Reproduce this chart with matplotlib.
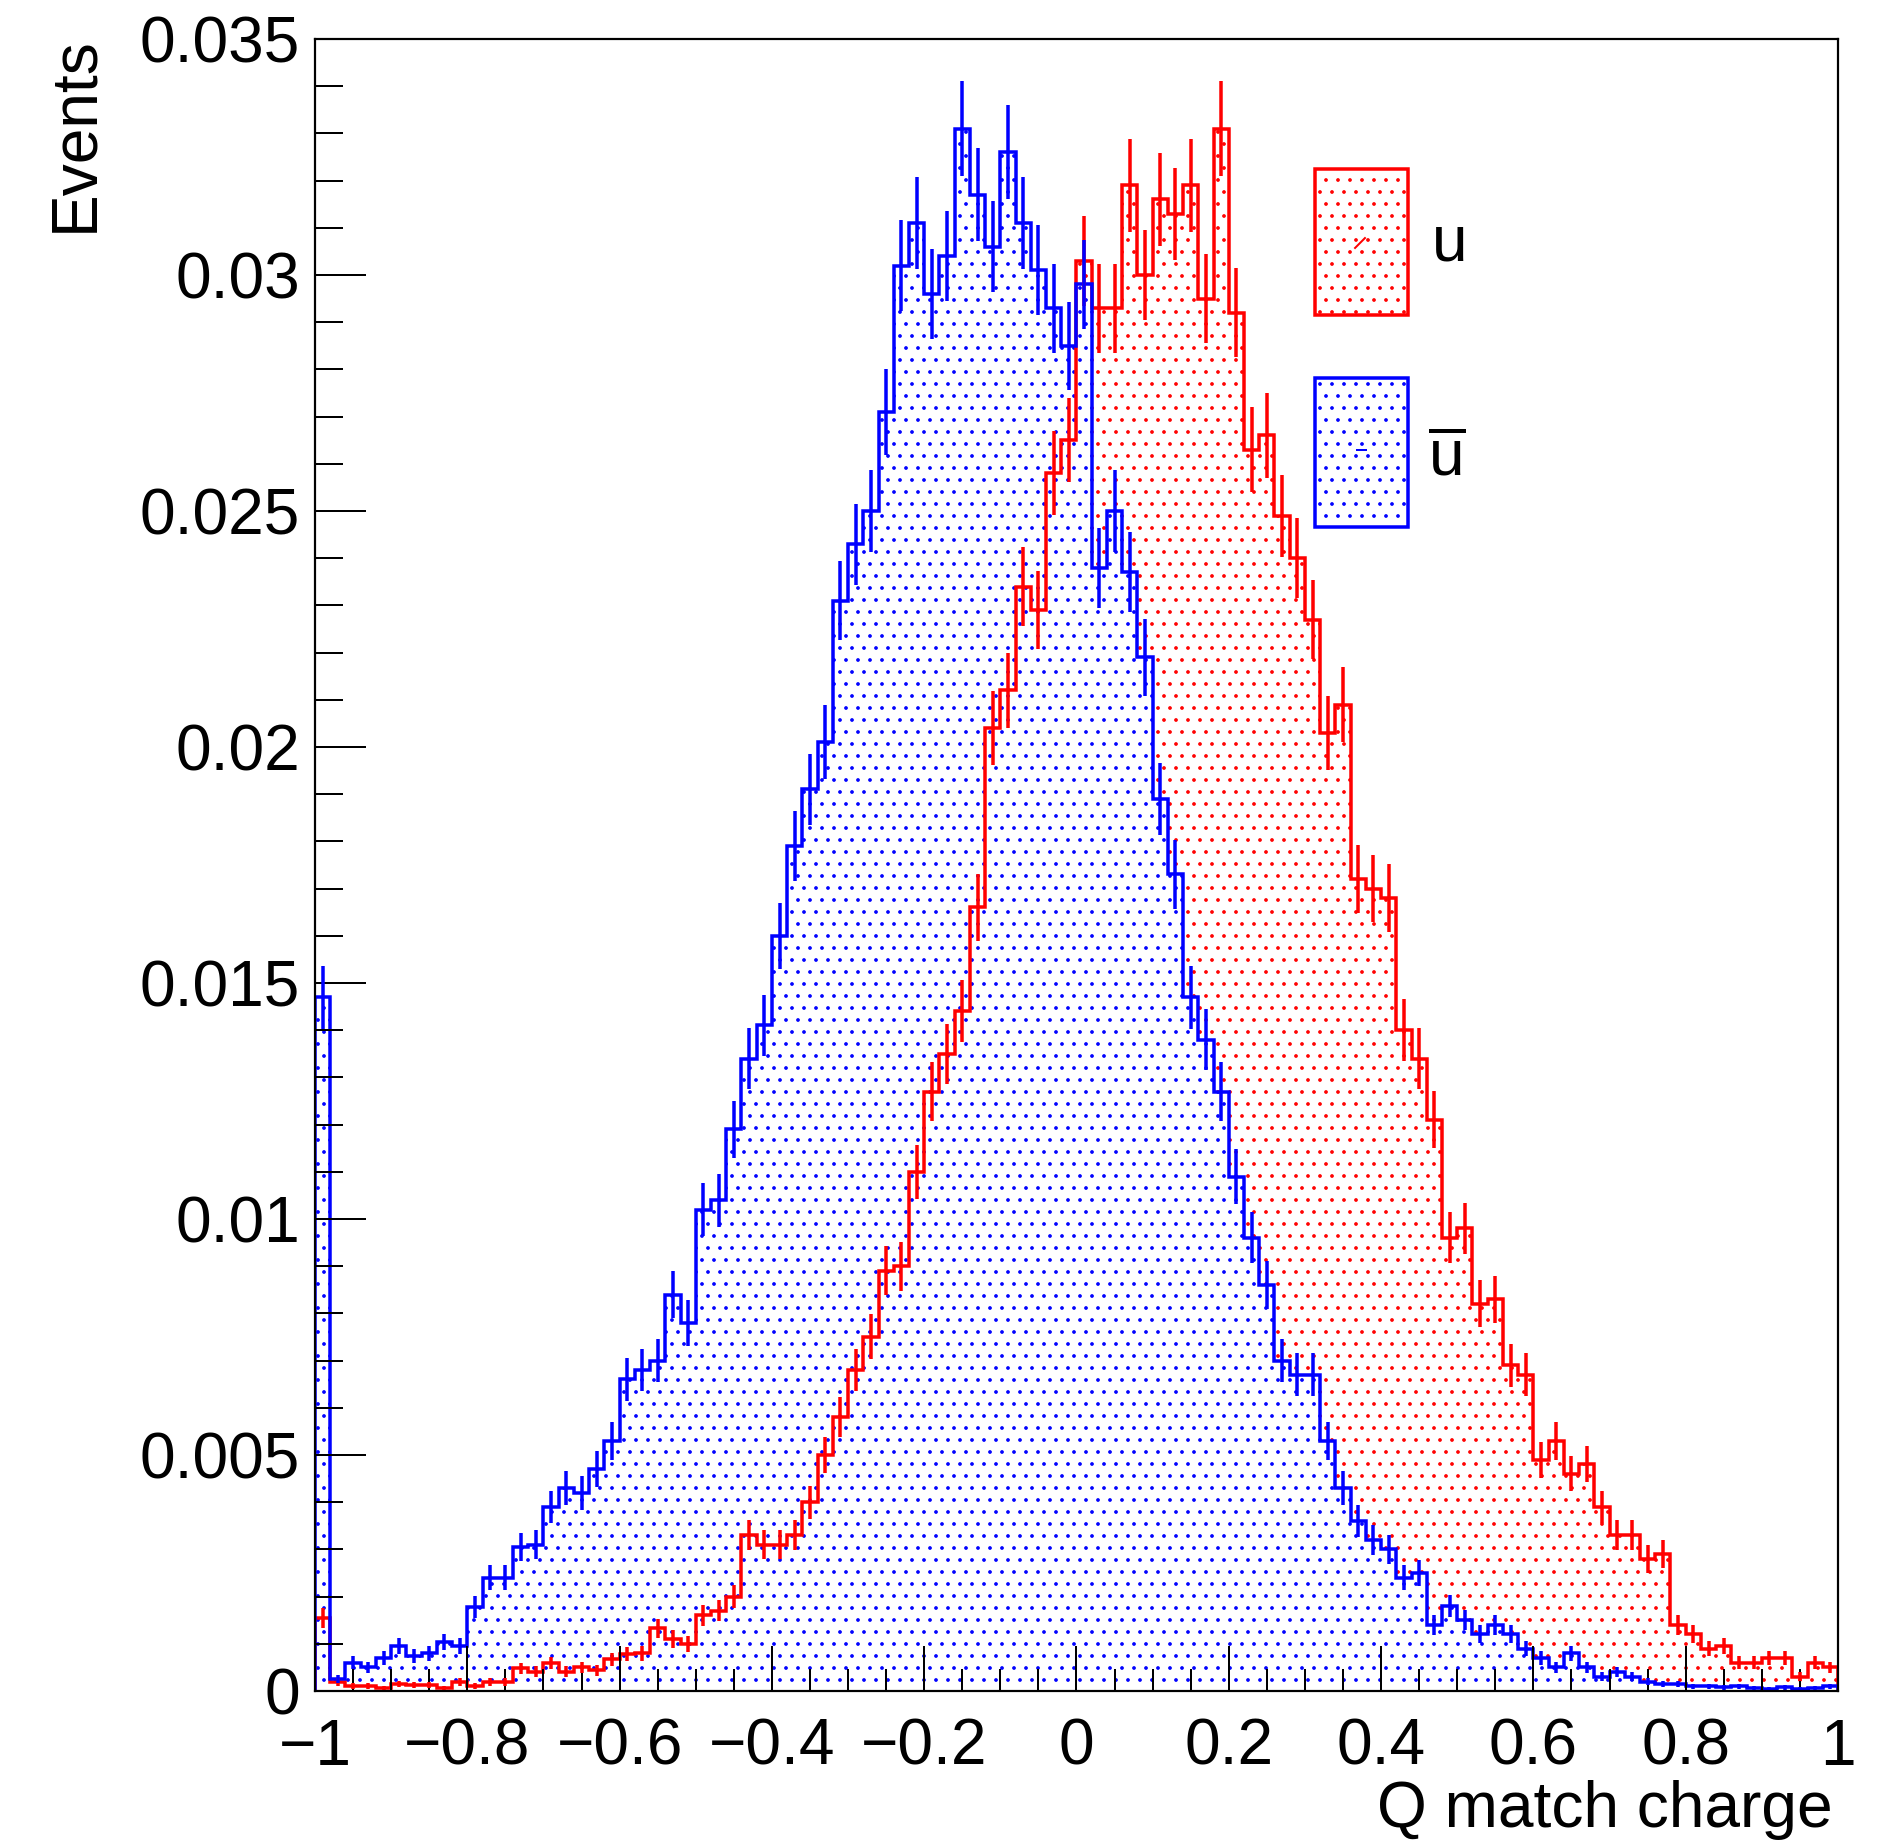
#se importan las librerias necesarias
import matplotlib
matplotlib.use("Agg")
import matplotlib.pyplot as plt
import numpy as np
from matplotlib.patches import Rectangle

#fuente parecida a helvetica (estilo ROOT)
plt.rcParams['font.family'] = ['Liberation Sans', 'DejaVu Sans']
plt.rcParams['mathtext.fontset'] = 'custom'
plt.rcParams['mathtext.rm'] = 'Liberation Sans'
plt.rcParams['hatch.linewidth'] = 1.3

#binning del histograma
xmin = -1.0
xmax = 1.0
nbins = 100

#valores (u en rojo, u barra en azul)
u = [0.00155, 0.00019, 0.00011, 0.00011, 0.00007, 0.00015, 0.00013, 0.00013, 0.00007, 0.00019,
     0.00011, 0.00019, 0.00019, 0.00048, 0.00041, 0.00059, 0.00041, 0.00050, 0.00044, 0.00067,
     0.00078, 0.00080, 0.00133, 0.00110, 0.00100, 0.00160, 0.00170, 0.00200, 0.00330, 0.00310,
     0.00310, 0.00330, 0.00400, 0.00500, 0.00580, 0.00680, 0.00750, 0.00890, 0.00900, 0.01100,
     0.01270, 0.01350, 0.01440, 0.01660, 0.02040, 0.02120, 0.02340, 0.02290, 0.02580, 0.02650,
     0.03030, 0.02930, 0.02930, 0.03190, 0.03000, 0.03160, 0.03130, 0.03190, 0.02950, 0.03310,
     0.02920, 0.02630, 0.02660, 0.02490, 0.02400, 0.02270, 0.02030, 0.02090, 0.01720, 0.01700,
     0.01680, 0.01400, 0.01340, 0.01210, 0.00960, 0.00980, 0.00820, 0.00830, 0.00690, 0.00670,
     0.00490, 0.00530, 0.00460, 0.00480, 0.00390, 0.00330, 0.00330, 0.00280, 0.00290, 0.00140,
     0.00120, 0.00090, 0.00095, 0.00060, 0.00060, 0.00070, 0.00070, 0.00030, 0.00060, 0.00050]

ubar = [0.01470, 0.00026, 0.00060, 0.00050, 0.00070, 0.00096, 0.00074, 0.00080, 0.00104, 0.00096,
        0.00178, 0.00240, 0.00240, 0.00305, 0.00310, 0.00390, 0.00430, 0.00420, 0.00470, 0.00530,
        0.00660, 0.00680, 0.00700, 0.00840, 0.00780, 0.01020, 0.01040, 0.01190, 0.01340, 0.01410,
        0.01600, 0.01790, 0.01910, 0.02010, 0.02310, 0.02430, 0.02500, 0.02710, 0.03020, 0.03110,
        0.02960, 0.03040, 0.03310, 0.03170, 0.03060, 0.03260, 0.03110, 0.03010, 0.02930, 0.02850,
        0.02980, 0.02380, 0.02500, 0.02370, 0.02190, 0.01890, 0.01730, 0.01470, 0.01380, 0.01270,
        0.01090, 0.00960, 0.00860, 0.00700, 0.00670, 0.00670, 0.00530, 0.00430, 0.00360, 0.00320,
        0.00300, 0.00240, 0.00250, 0.00140, 0.00180, 0.00150, 0.00120, 0.00140, 0.00120, 0.00090,
        0.00070, 0.00050, 0.00080, 0.00050, 0.00030, 0.00040, 0.00030, 0.00020, 0.00015, 0.00015,
        0.00010, 0.00010, 0.00008, 0.00010, 0.00006, 0.00005, 0.00008, 0.00004, 0.00006, 0.00010]

#numero de eventos usado para el error estadistico de cada bin
neventos = 33000

#marcas de los ejes
xticks = [-1.0, -0.8, -0.6, -0.4, -0.2, 0.0, 0.2, 0.4, 0.6, 0.8, 1.0]
xlabels = ["\u22121", "\u22120.8", "\u22120.6", "\u22120.4", "\u22120.2", "0",
           "0.2", "0.4", "0.6", "0.8", "1"]
yticks = [0.0, 0.005, 0.01, 0.015, 0.02, 0.025, 0.03, 0.035]
ylabels = ["0", "0.005", "0.01", "0.015", "0.02", "0.025", "0.03", "0.035"]

#se pasan las listas a arreglos
vecU = np.array(u)
vecUbar = np.array(ubar)
bordes = np.linspace(xmin, xmax, nbins + 1)
centros = 0.5 * (bordes[1:] + bordes[:-1])
errU = np.sqrt(vecU / neventos)
errUbar = np.sqrt(vecUbar / neventos)

#se hace la grafica (dpi 72: un punto = un pixel, y el patron de puntos queda cada 12 px)
fig = plt.figure(figsize=(1891 / 72, 1846 / 72), dpi=72)
ax = fig.add_axes([0.16658, 0.08397, 0.80539, 0.89491])

#relleno con puntos (primero rojo, luego azul encima)
ax.stairs(vecU, bordes, fill=True, facecolor="white", edgecolor="red", hatch=".", linewidth=0)
ax.stairs(vecUbar, bordes, fill=True, facecolor="white", edgecolor="blue", hatch=".", linewidth=0)

#contorno y barras de error
ax.stairs(vecU, bordes, color="red", linewidth=3.5)
ax.errorbar(centros, vecU, yerr=errU, fmt="none", ecolor="red", elinewidth=3.5)
ax.stairs(vecUbar, bordes, color="blue", linewidth=3.5)
ax.errorbar(centros, vecUbar, yerr=errUbar, fmt="none", ecolor="blue", elinewidth=3.5)

ax.set_xlim(xmin, xmax)
ax.set_ylim(0, 0.035)

ax.set_xticks(xticks)
ax.set_xticklabels(xlabels)
ax.set_xticks(np.arange(-1.0, 1.001, 0.05), minor=True)
ax.set_yticks(yticks)
ax.set_yticklabels(ylabels)
ax.set_yticks(np.arange(0.0, 0.0351, 0.001), minor=True)

ax.tick_params(axis="both", which="both", direction="in", top=False, right=False,
               width=2, labelsize=64)
ax.tick_params(axis="x", which="major", length=45, pad=27)
ax.tick_params(axis="x", which="minor", length=22)
ax.tick_params(axis="y", which="major", length=51, pad=15)
ax.tick_params(axis="y", which="minor", length=28)
for s in ax.spines.values():
    s.set_linewidth(2.2)

#titulos de los ejes
ax.set_xlabel("Q match charge", fontsize=64, ha="right", va="baseline")
ax.xaxis.set_label_coords(0.9967, -0.0823)
ax.set_ylabel("Events", fontsize=64, rotation=90, rotation_mode="default", ha="center", va="top")
ax.yaxis.set_label_coords(-0.1576, 1.002)

#leyenda a mano (cajas con el mismo relleno)
ax.add_patch(Rectangle((0.6566, 0.8329), 0.0611, 0.0884, transform=ax.transAxes,
                       facecolor="white", edgecolor="red", hatch=".", linewidth=3.5, clip_on=False))
ax.add_patch(Rectangle((0.6566, 0.7046), 0.0611, 0.0902, transform=ax.transAxes,
                       facecolor="white", edgecolor="blue", hatch=".", linewidth=3.5, clip_on=False))
ax.plot([0.6829, 0.6894], [0.8735, 0.8795], color="red", linewidth=2, transform=ax.transAxes)
ax.plot([0.6842, 0.6901], [0.7512, 0.7512], color="blue", linewidth=2, transform=ax.transAxes)
ax.text(0.7334, 0.8662, "u", fontsize=64, transform=ax.transAxes, va="baseline")
ax.text(0.7308, 0.7361, r"$\overline{\mathrm{u}}$", fontsize=64, transform=ax.transAxes, va="baseline")

#se guarda la grafica
fig.savefig("out.png", dpi=72)
